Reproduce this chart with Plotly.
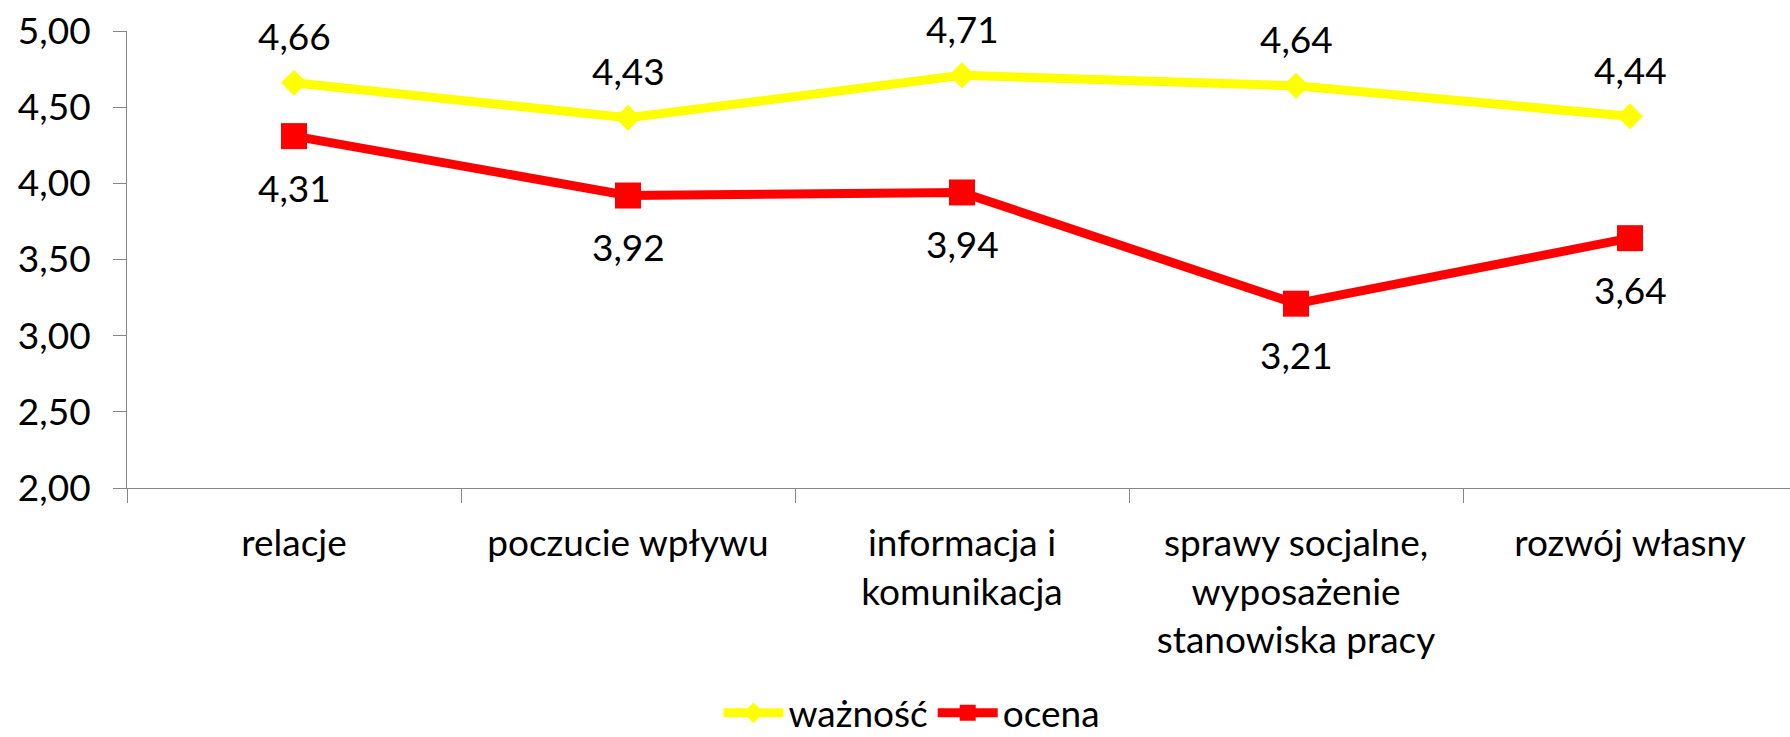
import plotly.graph_objects as go

categories = ["relacje", "poczucie wpływu", "informacja i<br>komunikacja",
              "sprawy socjalne,<br>wyposażenie<br>stanowiska pracy", "rozwój własny"]
waznosc = [4.66, 4.43, 4.71, 4.64, 4.44]
ocena = [4.31, 3.92, 3.94, 3.21, 3.64]
y_ticks = [2.0, 2.5, 3.0, 3.5, 4.0, 4.5, 5.0]

FONT = "Lato"
FS = 37
AX = "#868686"

def fmt(v):
    return f"{v:.2f}".replace(".", ",")

fig = go.Figure()
fig.add_trace(go.Scatter(
    x=categories, y=waznosc, name="ważność", mode="lines+markers",
    line=dict(color="#FFFF00", width=9),
    marker=dict(symbol="diamond", size=20, color="#FFFF00"),
))
fig.add_trace(go.Scatter(
    x=categories, y=ocena, name="ocena", mode="lines+markers",
    line=dict(color="#FF0000", width=9),
    marker=dict(symbol="square", size=26, color="#FF0000"),
))

annotations = []
for c, v in zip(categories, waznosc):
    annotations.append(dict(x=c, y=v, text=fmt(v), showarrow=False, yshift=47,
                            yanchor="middle", font=dict(family=FONT, size=FS, color="#000")))
for c, v in zip(categories, ocena):
    annotations.append(dict(x=c, y=v, text=fmt(v), showarrow=False, yshift=-51,
                            yanchor="middle", font=dict(family=FONT, size=FS, color="#000")))

fig.update_layout(
    width=1790, height=737,
    margin=dict(l=127, r=0, t=31, b=249, autoexpand=False),
    paper_bgcolor="white", plot_bgcolor="white",
    separators=", ",
    font=dict(family=FONT, size=FS, color="#000"),
    annotations=annotations,
    showlegend=True,
    legend=dict(orientation="h", x=0.472, xanchor="center", y=-0.493, yanchor="middle",
                font=dict(family=FONT, size=FS), itemwidth=60, bgcolor="rgba(0,0,0,0)"),
    xaxis=dict(type="category", range=[-0.5, 4.479], showgrid=False, showline=True,
               linecolor=AX, linewidth=1, ticks="outside", tickson="boundaries",
               ticklen=14, tickcolor=AX, tickwidth=1, ticklabelstandoff=23,
               tickfont=dict(family=FONT, size=FS)),
    yaxis=dict(range=[2, 5], tickvals=y_ticks, tickformat=".2f", showgrid=False,
               showline=True, linecolor=AX, linewidth=1, ticks="outside", ticklen=13,
               tickcolor=AX, tickwidth=1, ticklabelstandoff=15, zeroline=False,
               tickfont=dict(family=FONT, size=FS)),
)

fig.write_html("out.html", config={"displayModeBar": False},
               post_script="document.body.style.margin='0';document.body.style.padding='0';document.body.style.overflow='hidden';")
